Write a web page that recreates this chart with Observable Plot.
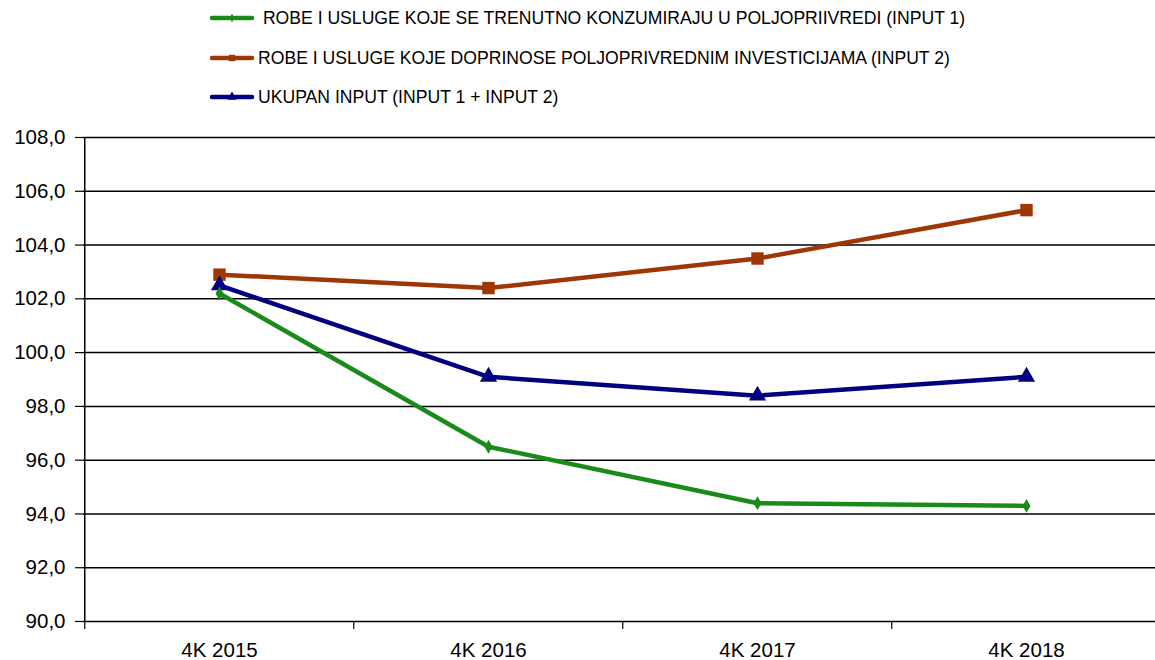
<!DOCTYPE html>
<html>
<head>
<meta charset="utf-8">
<script src="https://cdn.jsdelivr.net/npm/d3@7"></script>
<script src="https://cdn.jsdelivr.net/npm/@observablehq/plot@0.6"></script>
<style>
  html, body { margin: 0; padding: 0; background: #fff; width: 1155px; height: 660px; overflow: hidden; }
  #legend { position: relative; height: 120px; font-family: "Liberation Sans", Arial, sans-serif; font-size: 17.6px; color: #000; }
  .item { position: absolute; left: 210px; display: flex; align-items: center; height: 20px; }
  .item svg { display: block; }
  .item span { white-space: pre; }
</style>
</head>
<body>
<div id="legend"></div>
<div id="chart"></div>
<script>
const categories = ["4K 2015", "4K 2016", "4K 2017", "4K 2018"];
const seriesNames = [
  " ROBE I USLUGE KOJE SE TRENUTNO KONZUMIRAJU U POLJOPRIIVREDI (INPUT 1)",
  "ROBE I USLUGE KOJE DOPRINOSE POLJOPRIVREDNIM INVESTICIJAMA (INPUT 2)",
  "UKUPAN INPUT (INPUT 1 + INPUT 2)"
];
const input1 = [102.2, 96.5, 94.4, 94.3];
const input2 = [102.9, 102.4, 103.5, 105.3];
const ukupno = [102.5, 99.1, 98.4, 99.1];
const yTicks = [90, 92, 94, 96, 98, 100, 102, 104, 106, 108];

const colors = ["#1a8a1a", "#9e3606", "#000080"];
const symbols = ["diamond", "square", "triangle"];
const radii = [4.2, 7, 6.4];
const seriesValues = [input1, input2, ukupno];

const data = [];
seriesNames.forEach((s, i) => {
  categories.forEach((c, j) => data.push({series: s, cat: c, value: seriesValues[i][j], idx: i}));
});

// Legend
const legend = document.getElementById("legend");
const legendTops = [8, 48, 87];
seriesNames.forEach((s, i) => {
  const div = document.createElement("div");
  div.className = "item";
  div.style.top = legendTops[i] + "px";
  const ns = "http://www.w3.org/2000/svg";
  const svg = document.createElementNS(ns, "svg");
  svg.setAttribute("width", 48);
  svg.setAttribute("height", 20);
  const line = document.createElementNS(ns, "line");
  line.setAttribute("x1", 2); line.setAttribute("x2", 42);
  line.setAttribute("y1", 10); line.setAttribute("y2", 10);
  line.setAttribute("stroke", colors[i]); line.setAttribute("stroke-width", 4.5);
  line.setAttribute("stroke-linecap", "round");
  svg.appendChild(line);
  const m = document.createElementNS(ns, "path");
  const sym = [d3.symbolDiamond, d3.symbolSquare, d3.symbolTriangle][i];
  m.setAttribute("d", d3.symbol(sym, [20, 40, 40][i])());
  m.setAttribute("transform", "translate(22,10)");
  m.setAttribute("fill", colors[i]);
  svg.appendChild(m);
  div.appendChild(svg);
  const span = document.createElement("span");
  span.textContent = s;
  div.appendChild(span);
  legend.appendChild(div);
});

const step = (1161 - 83) / categories.length;

const chart = Plot.plot({
  width: 1155,
  height: 540,
  marginTop: 17,
  marginBottom: 39,
  marginLeft: 83,
  marginRight: 0,
  style: {fontFamily: "Liberation Sans, Arial, sans-serif", fontSize: "20px", color: "#000", overflow: "visible"},
  x: {type: "point", domain: categories, range: [83, 1161], padding: 0.5, label: null},
  y: {domain: [90, 108], label: null},
  color: {domain: seriesNames, range: colors},
  marks: [
    Plot.gridY(yTicks, {stroke: "#000", strokeOpacity: 1, strokeWidth: 1.5}),
    Plot.ruleX([categories[0]], {x: d => d, dx: -step / 2, y1: 90, y2: 108, stroke: "#000", strokeWidth: 1.5}),
    Plot.ruleX(categories, {x: d => d, dx: -step / 2, y1: 90, y2: 89.7, stroke: "#000", strokeWidth: 1.2, clip: false}),
    Plot.axisY({ticks: yTicks, tickSize: 8, tickPadding: 10, tickFormat: d => d3.format(".1f")(d).replace(".", ","), stroke: "#000", strokeWidth: 1.2, fontSize: 20.5, label: null, style: {letterSpacing: "0.4px"}}),
    Plot.axisX({tickSize: 0, tickPadding: 21, fontSize: 20.5, label: null, style: {letterSpacing: "0.6px"}}),
    Plot.line(data, {x: "cat", y: "value", z: "series", stroke: "series", strokeWidth: 4.5, strokeLinejoin: "round"}),
    Plot.dot(data, {x: "cat", y: "value", fill: "series", stroke: null, symbol: d => symbols[d.idx], r: d => radii[d.idx]})
  ],
  r: {type: "identity"},
  symbol: {type: "identity"}
});
document.getElementById("chart").appendChild(chart);
</script>
</body>
</html>
